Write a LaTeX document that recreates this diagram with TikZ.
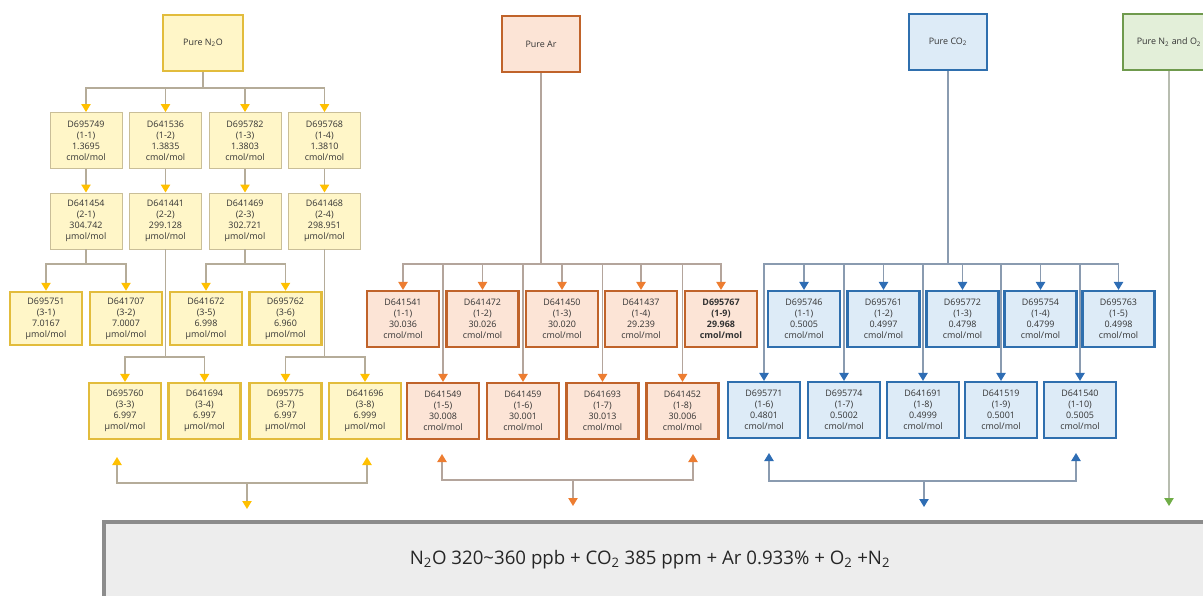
\documentclass[tikz,border=0pt]{standalone}
\usepackage{fontspec}
\setmainfont{Open Sans}
\usetikzlibrary{arrows.meta,calc}

\definecolor{ylwFill}{HTML}{FFF6C8}
\definecolor{ylwThin}{HTML}{C9BE98}
\definecolor{ylwThick}{HTML}{E2BC3C}
\definecolor{ylwArr}{HTML}{FFC000}
\definecolor{ylwLn}{HTML}{B5AC99}
\definecolor{ornFill}{HTML}{FCE4D6}
\definecolor{ornEdge}{HTML}{C0632A}
\definecolor{ornArr}{HTML}{ED7D31}
\definecolor{ornLn}{HTML}{B4A59C}
\definecolor{bluFill}{HTML}{DDEBF7}
\definecolor{bluEdge}{HTML}{2F6FAE}
\definecolor{bluArr}{HTML}{2E6DB4}
\definecolor{bluLn}{HTML}{8A9BB0}
\definecolor{grnFill}{HTML}{E3EFD9}
\definecolor{grnEdge}{HTML}{6F9A4D}
\definecolor{grnArr}{HTML}{70AD47}
\definecolor{grnLn}{HTML}{B8BDB0}
\definecolor{mixFill}{HTML}{EDEDED}
\definecolor{mixEdge}{HTML}{8C8C8C}
\definecolor{txt}{HTML}{333333}

\tikzset{
  box/.style={rectangle, align=center, inner sep=1pt, text=txt,
    minimum width=54pt, minimum height=42pt,
    font=\fontsize{6.7}{8.3}\selectfont},
  topbox/.style={box, minimum width=58pt},
  yBox/.style={box, fill=ylwFill, draw=ylwThin, line width=.7pt},
  yBoxB/.style={box, fill=ylwFill, draw=ylwThick, line width=1.6pt},
  oBox/.style={box, fill=ornFill, draw=ornEdge, line width=1.6pt},
  bBox/.style={box, fill=bluFill, draw=bluEdge, line width=1.6pt},
  lnY/.style={draw=ylwLn, line width=1pt},
  lnO/.style={draw=ornLn, line width=1pt},
  lnB/.style={draw=bluLn, line width=1pt},
  lnG/.style={draw=grnLn, line width=1pt},
  arY/.style={-{Triangle[length=6pt,width=7pt,color=ylwArr]}},
  arO/.style={-{Triangle[length=6pt,width=7pt,color=ornArr]}},
  arB/.style={-{Triangle[length=6pt,width=7pt,color=bluArr]}},
  arG/.style={-{Triangle[length=6pt,width=7pt,color=grnArr]}},
  arYY/.style={{Triangle[length=6pt,width=7pt,color=ylwArr]}-{Triangle[length=6pt,width=7pt,color=ylwArr]}},
  arOO/.style={{Triangle[length=6pt,width=7pt,color=ornArr]}-{Triangle[length=6pt,width=7pt,color=ornArr]}},
  arBB/.style={{Triangle[length=6pt,width=7pt,color=bluArr]}-{Triangle[length=6pt,width=7pt,color=bluArr]}},
}

\begin{document}
\begin{tikzpicture}[x=0.75pt,y=-0.75pt]
\useasboundingbox (0,0) rectangle (1203,596);
\clip (0,0) rectangle (1203,596);

% N2O
\node[yBoxB, topbox, minimum width=60pt, line width=2pt] (n2o) at (203,43) {Pure N\textsubscript{2}O};
\foreach \n/\x/\id/\v in {1/86/D695749/1.3695, 2/165.5/D641536/1.3835, 3/245/D695782/1.3803, 4/324.5/D695768/1.3810}
  \node[yBox] (na\n) at (\x,140.5) {\id\\(1-\n)\\\v\\cmol/mol};
\foreach \n/\x/\id/\v in {1/86/D641454/304.742, 2/165.5/D641441/299.128, 3/245/D641469/302.721, 4/324.5/D641468/298.951}
  \node[yBox] (nb\n) at (\x,221) {\id\\(2-\n)\\\v\\µmol/mol};
\foreach \n/\x/\id/\v in {1/46/D695751/7.0167, 2/126/D641707/7.0007, 5/206/D641672/6.998, 6/285.5/D695762/6.960}
  \node[yBoxB, minimum height=40pt] (nc\n) at (\x,318.5) {\id\\(3-\n)\\\v\\µmol/mol};
\foreach \n/\x/\id/\v in {3/125/D695760/6.997, 4/204.5/D641694/6.997, 7/285.5/D695775/6.997, 8/365/D641696/6.999}
  \node[yBoxB] (nc\n) at (\x,411) {\id\\(3-\n)\\\v\\µmol/mol};

\coordinate (nbusA) at (0,88);
\coordinate (nbusB) at (0,264);
\coordinate (nbusC) at (0,357);
\draw[lnY] (n2o.south) -- (n2o.south |- nbusA);
\foreach \n in {1,...,4} {
  \draw[lnY,arY] (n2o.south |- nbusA) -| (na\n.north);
  \draw[lnY,arY] (na\n.south) -- (nb\n.north);
}
\foreach \p/\c in {1/1,1/2,3/5,3/6}
  \draw[lnY,arY] (nb\p.south) -- (nb\p.south |- nbusB) -| (nc\c.north);
\foreach \p/\c in {2/3,2/4,4/7,4/8}
  \draw[lnY,arY] (nb\p.south) -- (nb\p.south |- nbusC) -| (nc\c.north);

\coordinate (ymL) at (117,457);
\coordinate (ymR) at (367,457);
\coordinate (ymM) at (247,483);
\coordinate (ymD) at (247,509);
\draw[lnY,arYY] (ymL) -- (ymL |- ymM) -- (ymR |- ymM) -- (ymR);
\draw[lnY,arY] (ymM) -- (ymD);

% Ar
\node[oBox, topbox] (ar) at (541,44) {Pure Ar};
\foreach \n/\x/\id/\v in {1/403/D641541/30.036, 2/482.5/D641472/30.026, 3/562/D641450/30.020, 4/641/D641437/29.239}
  \node[oBox] (aa\n) at (\x,319) {\id\\(1-\n)\\\v\\cmol/mol};
\node[oBox, font=\fontsize{6.7}{8.3}\selectfont\bfseries] (aa9) at (721,319) {D695767\\(1-9)\\29.968\\cmol/mol};
\foreach \n/\x/\id/\v in {5/443/D641549/30.008, 6/523/D641459/30.001, 7/602.5/D641693/30.013, 8/682.5/D641452/30.006}
  \node[oBox] (aa\n) at (\x,411) {\id\\(1-\n)\\\v\\cmol/mol};

\coordinate (abus) at (0,264);
\draw[lnO] (ar.south) -- (ar.south |- abus);
\foreach \n in {1,2,3,4,9,5,6,7,8}
  \draw[lnO,arO] (ar.south |- abus) -| (aa\n.north);

\coordinate (amL) at (442,454);
\coordinate (amR) at (693,454);
\coordinate (amM) at (573,480);
\coordinate (amD) at (573,506);
\draw[lnO,arOO] (amL) -- (amL |- amM) -- (amR |- amM) -- (amR);
\draw[lnO,arO] (amM) -- (amD);

% CO2
\node[bBox, topbox] (co2) at (948,42) {Pure CO\textsubscript{2}};
\foreach \n/\x/\id/\v in {1/804/D695746/0.5005, 2/883.5/D695761/0.4997, 3/962.5/D695772/0.4798, 4/1040.5/D695754/0.4799, 5/1118.5/D695763/0.4998}
  \node[bBox] (cc\n) at (\x,319) {\id\\(1-\n)\\\v\\cmol/mol};
\foreach \n/\x/\id/\v in {6/764/D695771/0.4801, 7/844/D695774/0.5002, 8/923/D641691/0.4999, 9/1001/D641519/0.5001, 10/1080/D641540/0.5005}
  \node[bBox] (cc\n) at (\x,410) {\id\\(1-\n)\\\v\\cmol/mol};

\coordinate (cbus) at (0,264);
\draw[lnB] (co2.south) -- (co2.south |- cbus);
\foreach \n in {1,...,10}
  \draw[lnB,arB] (co2.south |- cbus) -| (cc\n.north);

\coordinate (cmL) at (769,453);
\coordinate (cmR) at (1076,453);
\coordinate (cmM) at (924,481);
\coordinate (cmD) at (924,507);
\draw[lnB,arBB] (cmL) -- (cmL |- cmM) -- (cmR |- cmM) -- (cmR);
\draw[lnB,arB] (cmM) -- (cmD);

% N2 and O2
\node[box, fill=grnFill, draw=grnEdge, line width=1.8pt, minimum width=69pt] (grn) at (1169,42) {Pure N\textsubscript{2} and O\textsubscript{2}};
\coordinate (gD) at (1169,506);
\draw[lnG,arG] (grn.south) -- (gD);

% mixture
\draw[fill=mixFill, draw=mixEdge, line width=2.4pt] (104,522) rectangle (1220,620);
\node[text=black!85, font=\fontsize{14}{16}\selectfont] (mix) at (650,560)
  {N\textsubscript{2}O 320\textasciitilde360 ppb + CO\textsubscript{2} 385 ppm + Ar 0.933\% + O\textsubscript{2} +N\textsubscript{2}};
\end{tikzpicture}
\end{document}
